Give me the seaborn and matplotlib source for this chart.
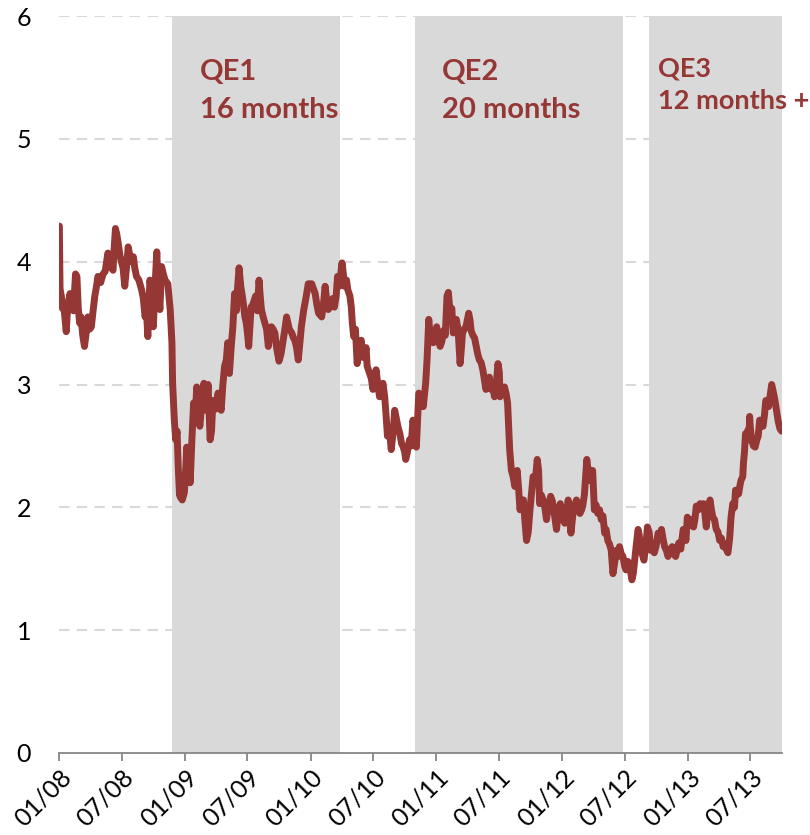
import matplotlib
matplotlib.use("Agg")
import matplotlib.pyplot as plt
import pandas as pd
import seaborn as sns

# ---------------- data (10-year yield) ----------------
days_2008 = ["01-02","01-04","01-09","01-11","01-14","01-18","01-22","01-26","02-02","02-07","02-12","02-18",
             "02-22","02-26","03-01","03-05","03-10","03-15","03-20","03-25","03-30","04-04","04-09","04-14",
             "04-19","04-23","05-01","05-08","05-14","05-22","05-27","06-01","06-06","06-09","06-13","06-17",
             "06-21","06-26","07-01","07-05","07-10","07-15","07-20","07-28","08-04","08-08","08-13","08-20",
             "08-28","09-02","09-07","09-11","09-15","09-21","09-26","10-01","10-06","10-11","10-15","10-20",
             "10-25","10-30","11-04","11-12","11-19","11-24","11-26","12-01","12-05","12-09","12-12","12-16",
             "12-19","12-24","12-30"]
yld_2008 = [4.29,3.78,3.70,3.62,3.66,3.55,3.43,3.62,3.74,3.65,3.60,3.90,
            3.88,3.62,3.50,3.55,3.40,3.31,3.42,3.55,3.45,3.47,3.60,3.72,
            3.80,3.88,3.83,3.90,3.92,4.07,4.02,3.95,3.93,4.10,4.27,4.22,
            4.15,4.05,3.99,3.95,3.80,3.95,4.12,4.00,4.04,3.95,3.88,3.85,
            3.77,3.70,3.55,3.60,3.39,3.85,3.75,3.47,3.80,4.08,3.80,3.61,
            3.96,3.90,3.85,3.82,3.61,3.34,3.01,2.71,2.55,2.62,2.35,2.10,
            2.08,2.06,2.12]

days_2009 = ["01-02","01-06","01-11","01-16","01-21","01-26","01-31","02-04","02-09","02-13","02-19","02-25",
             "03-01","03-04","03-09","03-15","03-19","03-23","03-31","04-07","04-11","04-16","04-21","04-26",
             "05-01","05-05","05-10","05-15","05-20","05-25","05-30","06-03","06-07","06-12","06-18","06-24",
             "06-28","07-02","07-05","07-09","07-12","07-17","07-25","07-30","08-04","08-08","08-11","08-16",
             "08-21","08-26","08-31","09-04","09-09","09-14","09-19","09-24","10-01","10-07","10-13","10-18",
             "10-23","10-31","11-07","11-12","11-16","11-21","11-26","12-01","12-05","12-12","12-18","12-25"]
yld_2009 = [2.25,2.49,2.40,2.20,2.55,2.85,2.75,2.98,2.80,2.66,2.85,3.01,
            2.85,2.79,3.00,2.55,2.62,2.87,2.80,2.93,2.85,2.79,3.00,3.15,
            3.20,3.34,3.09,3.30,3.47,3.74,3.60,3.80,3.95,3.80,3.69,3.55,
            3.50,3.40,3.31,3.50,3.63,3.65,3.72,3.60,3.85,3.70,3.61,3.55,
            3.50,3.45,3.31,3.40,3.47,3.45,3.42,3.30,3.19,3.25,3.36,3.45,
            3.55,3.45,3.42,3.38,3.36,3.30,3.20,3.35,3.47,3.61,3.70,3.82]

days_2010 = ["01-04","01-09","01-14","01-19","01-24","02-02","02-07","02-12","02-16","02-21","02-26","03-01",
             "03-06","03-11","03-16","03-20","03-25","04-02","04-06","04-09","04-15","04-19","04-25","04-29",
             "05-02","05-06","05-11","05-16","05-22","05-28","06-02","06-07","06-11","06-14","06-21","06-26",
             "07-01","07-05","07-10","07-15","07-20","07-25","07-30","08-04","08-08","08-12","08-18","08-23",
             "08-28","09-02","09-07","09-12","09-17","09-22","09-27","10-01","10-04","10-09","10-15","10-20",
             "10-25","10-30","11-04","11-09","11-11","11-17","11-24","12-01","12-05","12-10","12-14","12-20",
             "12-23","12-28"]
yld_2010 = [3.82,3.78,3.74,3.65,3.58,3.55,3.65,3.80,3.70,3.61,3.63,3.66,
            3.70,3.63,3.72,3.88,3.80,3.99,3.90,3.80,3.85,3.77,3.72,3.63,
            3.50,3.39,3.45,3.17,3.30,3.36,3.22,3.25,3.30,3.15,3.09,3.05,
            2.96,3.05,3.12,3.00,2.90,2.98,3.01,2.90,2.75,2.58,2.62,2.47,
            2.60,2.79,2.72,2.65,2.60,2.52,2.49,2.45,2.39,2.45,2.55,2.50,
            2.71,2.62,2.49,2.80,2.93,2.90,2.82,3.01,3.20,3.53,3.40,3.36,
            3.34,3.40]

days_2011 = ["01-02","01-07","01-12","01-17","01-22","01-27","02-01","02-05","02-10","02-15","02-19","02-24",
             "02-28","03-05","03-11","03-15","03-18","03-23","03-28","04-05","04-09","04-12","04-17","04-22",
             "04-27","05-01","05-06","05-11","05-16","05-20","05-25","05-30","06-04","06-09","06-14","06-19",
             "06-24","06-29","07-03","07-05","07-11","07-18","07-23","07-27","08-02","08-07","08-12","08-17",
             "08-24","08-28","09-01","09-06","09-11","09-15","09-20","09-25","09-30","10-04","10-09","10-15",
             "10-21","10-25","10-28","11-02","11-07","11-12","11-17","11-22","11-29","12-04","12-08","12-12",
             "12-16","12-21","12-27"]
yld_2011 = [3.47,3.36,3.31,3.35,3.44,3.40,3.72,3.75,3.58,3.62,3.42,3.50,
            3.53,3.45,3.17,3.30,3.42,3.45,3.47,3.58,3.52,3.44,3.40,3.38,
            3.31,3.25,3.20,3.18,3.12,3.05,2.96,3.02,3.06,2.96,2.98,2.90,
            3.00,3.17,3.10,2.90,2.95,2.98,2.92,2.85,2.47,2.30,2.25,2.17,
            2.30,2.15,1.98,2.05,2.06,1.90,1.73,1.80,1.98,2.10,2.25,2.20,
            2.39,2.30,2.03,2.10,2.06,2.00,1.90,2.00,2.09,2.05,1.98,1.90,
            1.82,1.95,2.03]

days_2012 = ["01-02","01-09","01-14","01-19","01-27","02-03","02-12","02-17","02-22","02-27","03-01","03-06",
             "03-13","03-17","03-20","03-25","03-30","04-04","04-09","04-14","04-19","04-24","04-29","05-04",
             "05-08","05-13","05-18","05-23","05-28","06-02","06-07","06-12","06-16","06-21","06-26","07-01",
             "07-05","07-10","07-15","07-22","07-26","07-30","08-04","08-09","08-12","08-16","08-21","08-26",
             "09-01","09-05","09-10","09-15","09-20","09-25","09-30","10-06","10-11","10-16","10-20","10-25",
             "10-30","11-04","11-10","11-16","11-21","11-26","11-30","12-05","12-11","12-18","12-22","12-26",
             "12-30"]
yld_2012 = [1.92,1.87,1.95,2.06,1.79,1.98,2.06,2.00,1.95,1.98,2.01,2.10,
            2.39,2.30,2.22,2.25,2.30,1.98,2.02,1.95,1.98,1.90,1.93,1.79,
            1.82,1.73,1.70,1.65,1.46,1.55,1.65,1.60,1.68,1.62,1.60,1.52,
            1.49,1.56,1.54,1.41,1.46,1.57,1.70,1.82,1.78,1.68,1.62,1.57,
            1.70,1.84,1.80,1.65,1.70,1.63,1.68,1.79,1.75,1.82,1.75,1.68,
            1.65,1.60,1.65,1.68,1.62,1.60,1.65,1.71,1.66,1.82,1.80,1.73,
            1.92]

days_2013 = ["01-03","01-07","01-12","01-17","01-21","01-25","01-31","02-05","02-10","02-15","02-19","02-23",
             "02-27","03-01","03-06","03-10","03-14","03-19","03-24","03-29","04-03","04-08","04-13","04-18",
             "04-22","04-27","05-02","05-06","05-11","05-16","05-19","05-22","05-28","06-01","06-04","06-09",
             "06-11","06-14","06-17","06-21","06-24","06-27","06-29","07-01","07-05","07-10","07-15","07-20",
             "07-24","07-28","08-02","08-07","08-11","08-15","08-19","08-23","08-27","09-01","09-05","09-10",
             "09-15","09-20","09-25","09-30"]
yld_2013 = [1.85,1.87,1.90,1.84,1.90,2.01,1.98,2.03,2.00,2.03,1.95,1.84,
            1.95,2.01,2.06,1.98,1.92,1.90,1.82,1.80,1.73,1.75,1.68,1.70,
            1.66,1.63,1.75,1.92,2.03,2.00,2.14,2.10,2.11,2.18,2.22,2.25,
            2.36,2.45,2.60,2.55,2.63,2.55,2.74,2.65,2.55,2.50,2.49,2.55,
            2.58,2.71,2.66,2.66,2.75,2.87,2.85,2.82,2.90,3.00,2.95,2.88,
            2.79,2.70,2.64,2.62]

qe_names = ["QE1", "QE2", "QE3"]
qe_durations = ["16 months", "20 months", "12 months +"]
qe_starts = ["2008-11-25", "2010-11-01", "2012-09-10"]
qe_ends = ["2010-03-27", "2012-06-25", "2013-10-01"]

tick_dates = pd.date_range("2008-01-01", "2013-07-01", freq="6MS")
y_ticks = [0, 1, 2, 3, 4, 5, 6]

# ---------------- build frame ----------------
dates, vals = [], []
for yr, d, v in [(2008, days_2008, yld_2008), (2009, days_2009, yld_2009), (2010, days_2010, yld_2010),
                 (2011, days_2011, yld_2011), (2012, days_2012, yld_2012), (2013, days_2013, yld_2013)]:
    dates += [f"{yr}-{x}" for x in d]
    vals += v
df = pd.DataFrame({"date": pd.to_datetime(dates), "yield": vals})

# ---------------- style ----------------
sns.set_style("white")
plt.rcParams["font.family"] = ["Lato", "DejaVu Sans"]

RED = "#953735"
SHADE = "#d9d9d9"
AXIS = "#868686"

fig = plt.figure(figsize=(8.10, 8.35), dpi=100)
ax = fig.add_axes([59 / 810, 82 / 835, 723 / 810, 737 / 835])

for v in y_ticks[1:]:
    ax.axhline(v, color=SHADE, lw=1.5, ls=(0, (5, 3.5)), zorder=0.5)

for s, e in zip(qe_starts, qe_ends):
    ax.axvspan(pd.Timestamp(s), pd.Timestamp(e), color=SHADE, lw=0, zorder=1)

sns.lineplot(data=df, x="date", y="yield", ax=ax, color=RED, lw=5.0, zorder=3, sort=True)
ln = ax.get_lines()[-1]
ln.set_solid_joinstyle("round")
ln.set_solid_capstyle("round")

ax.set_xlim(pd.Timestamp("2008-01-01"), pd.Timestamp("2013-10-01"))
ax.set_ylim(0, 6)
ax.set_yticks(y_ticks)
ax.set_yticklabels([str(t) for t in y_ticks])
ax.set_xticks(tick_dates)
ax.set_xticklabels([d.strftime("%m/%y") for d in tick_dates])
ax.set_xlabel("")
ax.set_ylabel("")

for sp in ["left", "top", "right"]:
    ax.spines[sp].set_visible(False)
ax.spines["bottom"].set_color(AXIS)
ax.spines["bottom"].set_linewidth(1.3)
ax.spines["bottom"].set_zorder(4)

ax.tick_params(axis="x", length=6, width=1.3, color=AXIS, labelsize=18, pad=3,
               direction="out", bottom=True, labelcolor="black")
ax.tick_params(axis="y", length=0, pad=20, labelsize=18, labelcolor="black")
for lab in ax.get_xticklabels():
    lab.set_rotation(45)
    lab.set_ha("right")
    lab.set_va("top")
    lab.set_rotation_mode("anchor")

# ---------------- QE labels ----------------
label_x = ["2009-02-14", "2011-01-18", "2012-10-05"]
sizes = [21, 21, 19.5]
for name, dur, lx, fs, y1, y2 in zip(qe_names, qe_durations, label_x, sizes,
                                     [5.48, 5.48, 5.51], [5.17, 5.17, 5.24]):
    ax.text(pd.Timestamp(lx), y1, name, color=RED, fontsize=fs, fontweight="bold",
            va="baseline", ha="left", zorder=5)
    ax.text(pd.Timestamp(lx), y2, dur, color=RED, fontsize=fs, fontweight="bold",
            va="baseline", ha="left", zorder=5, clip_on=False)

fig.savefig("out.png", dpi=100)
